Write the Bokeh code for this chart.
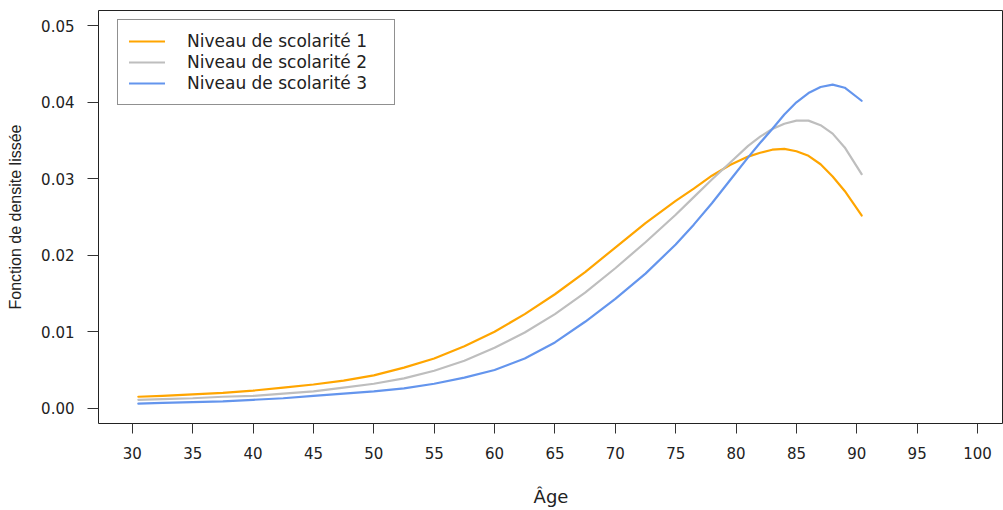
from bokeh.plotting import figure
from bokeh.models import Range1d, FixedTicker, Legend, LegendItem, NumeralTickFormatter
from bokeh.embed import file_html
from bokeh.resources import INLINE

# ---- data ----
age = [30.5, 32.5, 35, 37.5, 40, 42.5, 45, 47.5, 50, 52.5, 55, 57.5, 60, 62.5,
       65, 67.5, 70, 72.5, 75, 76.5, 78, 79.5, 81, 82, 83, 84, 85, 86, 87, 88,
       89, 90.4]
niveau1 = [0.0015, 0.0016, 0.0018, 0.0020, 0.0023, 0.0027, 0.0031, 0.0036,
           0.0043, 0.0053, 0.0065, 0.0081, 0.0100, 0.0123, 0.0149, 0.0178,
           0.0210, 0.0242, 0.0271, 0.0287, 0.0304, 0.0318, 0.0329, 0.0334,
           0.0338, 0.0339, 0.0336, 0.0330, 0.0319, 0.0303, 0.0284, 0.0252]
niveau2 = [0.0011, 0.0012, 0.0013, 0.0015, 0.0016, 0.0019, 0.0022, 0.0027,
           0.0032, 0.0039, 0.0049, 0.0062, 0.0079, 0.0099, 0.0123, 0.0151,
           0.0183, 0.0217, 0.0253, 0.0276, 0.0299, 0.0321, 0.0343, 0.0355,
           0.0365, 0.0372, 0.0376, 0.0376, 0.0370, 0.0359, 0.0341, 0.0306]
niveau3 = [0.0006, 0.0007, 0.0008, 0.0009, 0.0011, 0.0013, 0.0016, 0.0019,
           0.0022, 0.0026, 0.0032, 0.0040, 0.0050, 0.0065, 0.0086, 0.0113,
           0.0143, 0.0176, 0.0214, 0.0240, 0.0268, 0.0298, 0.0328, 0.0347,
           0.0365, 0.0384, 0.0400, 0.0412, 0.0420, 0.0423, 0.0419, 0.0402]
series_names = ["Niveau de scolarité 1", "Niveau de scolarité 2", "Niveau de scolarité 3"]
series_colors = ["#FFA500", "#BEBEBE", "#6495ED"]
x_ticks = [30, 35, 40, 45, 50, 55, 60, 65, 70, 75, 80, 85, 90, 95, 100]
y_ticks = [0.00, 0.01, 0.02, 0.03, 0.04, 0.05]

FONT = "DejaVu Sans"

p = figure(width=1003, height=510, output_backend="svg", toolbar_location=None,
           x_range=Range1d(27.2, 102.15), y_range=Range1d(-0.002, 0.052),
           min_border_left=98, min_border_right=0, min_border_top=10,
           min_border_bottom=87)
p.background_fill_color = "white"
p.border_fill_color = "white"
p.outline_line_color = "#222222"
p.outline_line_width = 1
p.xgrid.visible = False
p.ygrid.visible = False

renderers = []
for vals, col in zip([niveau1, niveau2, niveau3], series_colors):
    r = p.line(age, vals, line_color=col, line_width=2.2, line_join="round",
               line_cap="round")
    renderers.append(r)

# axes
xa = p.xaxis[0]
xa.ticker = FixedTicker(ticks=x_ticks)
xa.axis_line_color = None
xa.major_tick_out = 10
xa.major_tick_in = 0
xa.minor_tick_out = 0
xa.minor_tick_in = 0
xa.major_tick_line_color = "#333333"
xa.major_label_text_font = FONT
xa.major_label_text_font_size = "15px"
xa.major_label_text_color = "#222222"
xa.major_label_standoff = 13
xa.axis_label = "Âge"
xa.axis_label_text_font = FONT
xa.axis_label_text_font_size = "18px"
xa.axis_label_text_font_style = "normal"
xa.axis_label_text_color = "#222222"
xa.axis_label_standoff = 24

ya = p.yaxis[0]
ya.ticker = FixedTicker(ticks=y_ticks)
ya.formatter = NumeralTickFormatter(format="0.00")
ya.axis_line_color = None
ya.major_tick_out = 11
ya.major_tick_in = 0
ya.minor_tick_out = 0
ya.minor_tick_in = 0
ya.major_tick_line_color = "#333333"
ya.major_label_orientation = "horizontal"
ya.major_label_text_font = FONT
ya.major_label_text_font_size = "15px"
ya.major_label_text_color = "#222222"
ya.major_label_standoff = 13
ya.axis_label = "Fonction de densite lissée"
ya.axis_label_text_font = "Liberation Sans"
ya.axis_label_text_font_size = "16px"
ya.axis_label_text_font_style = "normal"
ya.axis_label_text_color = "#222222"
ya.axis_label_standoff = 14

legend = Legend(items=[LegendItem(label=n, renderers=[r]) for n, r in zip(series_names, renderers)],
                location=(19, 318))
legend.border_line_color = "#222222"
legend.border_line_width = 1
legend.background_fill_color = "white"
legend.background_fill_alpha = 1
legend.padding = 11
legend.margin = 0
legend.spacing = 1
legend.glyph_width = 36
legend.glyph_height = 20
legend.label_height = 20
legend.label_standoff = 22
legend.label_width = 196
legend.label_text_font = FONT
legend.label_text_font_size = "17px"
legend.label_text_color = "#222222"
p.add_layout(legend, "center")

open("out.html", "w").write(file_html(p, INLINE))
